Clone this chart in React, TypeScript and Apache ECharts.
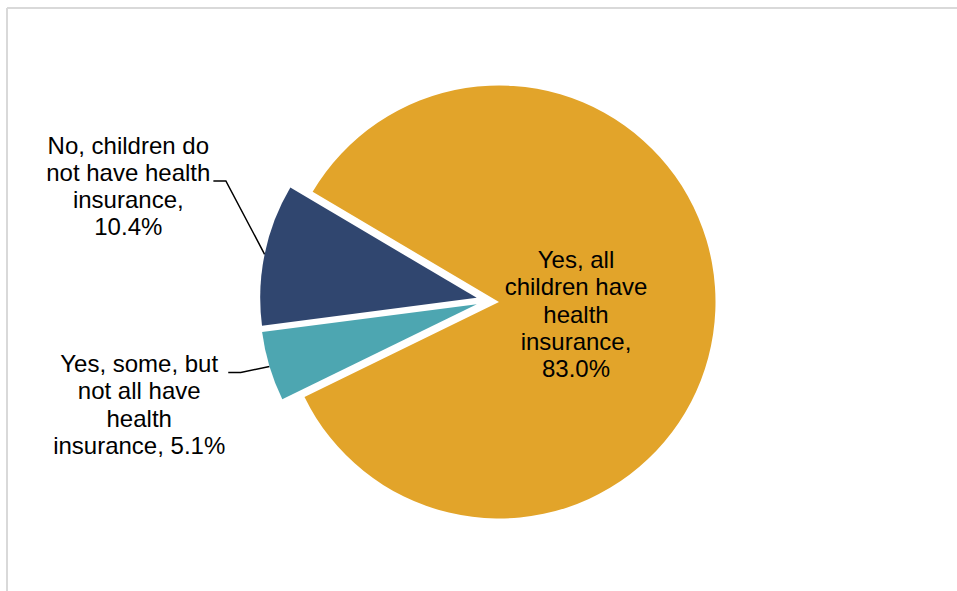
import React, { useEffect, useRef } from "react";
import * as echarts from "echarts";

// ---- Data ----
const categories = [
  "Yes, all children have health insurance",
  "Yes, some, but not all have health insurance",
  "No, children do not have health insurance",
];
const values = [83.0, 5.1, 10.4];
const labelHeads = [
  "Yes, all\nchildren have\nhealth\ninsurance,\n",
  "Yes, some, but\nnot all have\nhealth\ninsurance, ",
  "No, children do\nnot have health\ninsurance,\n",
];

// ---- Styling / layout ----
const colors = ["#E2A42A", "#4DA6B1", "#30466F"];
const CENTERS: number[][] = [
  [499, 302],
  [476.8, 304.2],
  [476.7, 297.8],
];
const RADIUS = 216.5;
const START_ANGLE = 149.4;
const LABEL_POS: number[][] = [
  [576, 314],
  [139.2, 404.5],
  [128.3, 186],
];
const LEADER_DY = [0, -32, -5];

function outerMidPoint(i: number): number[] {
  const total = values.reduce((a, b) => a + b, 0);
  let cum = 0;
  for (let j = 0; j < i; j++) cum += values[j];
  const deg = START_ANGLE - ((cum + values[i] / 2) / total) * 360;
  const rad = (deg * Math.PI) / 180;
  return [CENTERS[i][0] + RADIUS * Math.cos(rad), CENTERS[i][1] - RADIUS * Math.sin(rad)];
}

export default function App() {
  const ref = useRef<HTMLDivElement>(null);
  useEffect(() => {
    if (!ref.current) return;
    const chart = echarts.init(ref.current, null, { renderer: "svg" });
    const series = values.map((_, i) => ({
      type: "pie",
      center: CENTERS[i],
      radius: RADIUS,
      startAngle: START_ANGLE,
      clockwise: true,
      avoidLabelOverlap: false,
      silent: true,
      data: values.map((v, j) => ({
        name: categories[j],
        value: v,
        itemStyle: { color: j === i ? colors[j] : "rgba(0,0,0,0)", borderWidth: 0 },
        label: { show: j === i },
        labelLine: { show: j === i && i !== 0 },
      })),
      label: {
        position: i === 0 ? "inside" : "outside",
        formatter: (p: any) => `${labelHeads[p.dataIndex]}${values[p.dataIndex].toFixed(1)}%`,
        fontFamily: "'Liberation Sans', Arial, sans-serif",
        fontSize: 24,
        lineHeight: 27.3,
        color: "#000",
        align: "center",
      },
      labelLine: { lineStyle: { color: "#000", width: 1.5 }, smooth: false },
      labelLayout: (params: any) => {
        const [x, y] = LABEL_POS[i];
        const out: any = { x, y, align: "center", verticalAlign: "middle" };
        if (i !== 0) {
          const w = params.labelRect ? params.labelRect.width : 160;
          const ey = y + LEADER_DY[i];
          const ex = x + w / 2 + 3;
          out.labelLinePoints = [outerMidPoint(i), [ex + 12.5, ey], [ex, ey]];
        }
        return out;
      },
    }));
    chart.setOption({
      animation: false,
      backgroundColor: "#ffffff",
      graphic: [
        { type: "line", shape: { x1: 7, y1: 8, x2: 957, y2: 8 }, style: { stroke: "#d9d9d9", lineWidth: 2 } },
        { type: "line", shape: { x1: 7, y1: 8, x2: 7, y2: 591 }, style: { stroke: "#d9d9d9", lineWidth: 2 } },
      ],
      series,
    } as any);
    return () => chart.dispose();
  }, []);
  return (
    <div
      ref={ref}
      style={{ position: "absolute", left: 0, top: 0, width: 957, height: 591, background: "#fff" }}
    />
  );
}
